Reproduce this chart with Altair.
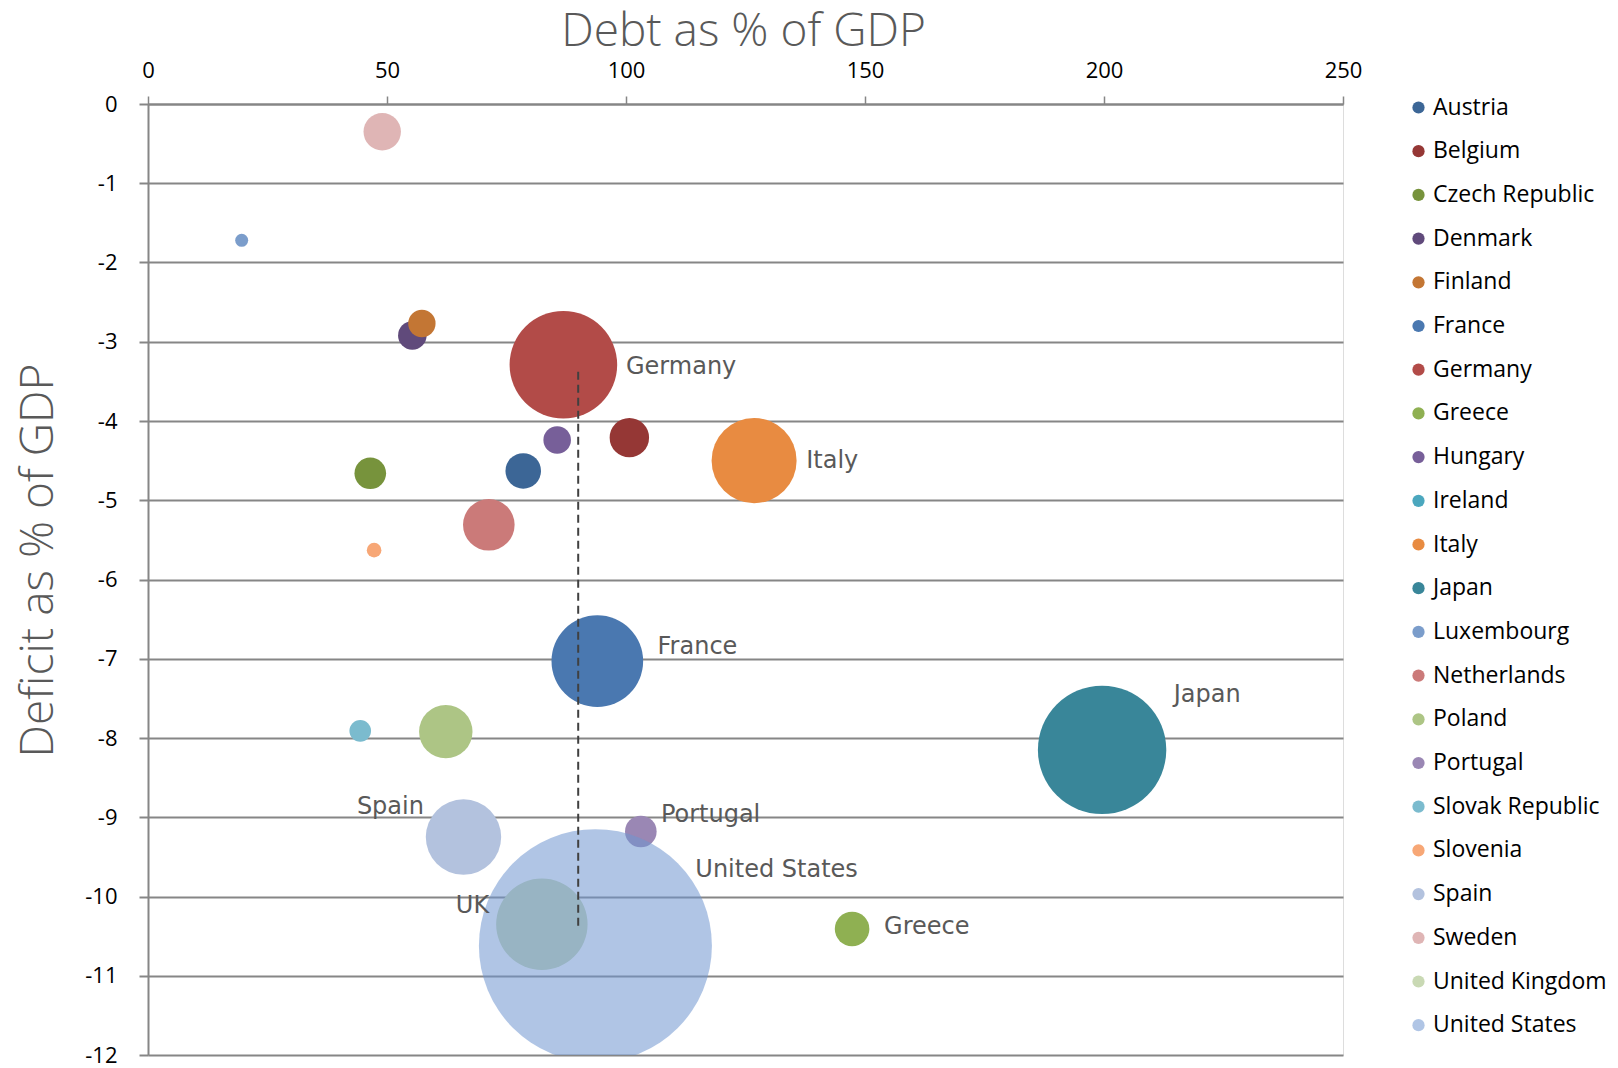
import altair as alt
import pandas as pd

# ---- data ----
legend_countries = ["Austria", "Belgium", "Czech Republic", "Denmark", "Finland", "France",
                    "Germany", "Greece", "Hungary", "Ireland", "Italy", "Japan", "Luxembourg",
                    "Netherlands", "Poland", "Portugal", "Slovak Republic", "Slovenia", "Spain",
                    "Sweden", "United Kingdom", "United States"]
legend_colors = ["#3C6696", "#953735", "#77933C", "#604A7B", "#C37634", "#4A78B0",
                 "#B24B48", "#8FB052", "#775F99", "#4BA7BE", "#E88B41", "#398699", "#7B9DCB",
                 "#CB7A79", "#ADC585", "#9A87B4", "#7BBBCE", "#F7A776", "#B3C2DE",
                 "#DFB5B5", "#C9D9B4", "#7096D0"]

countries = ["Austria", "Belgium", "Czech Republic", "Denmark", "Finland", "France",
             "Germany", "Greece", "Hungary", "Italy", "Japan", "Luxembourg",
             "Netherlands", "Poland", "Portugal", "Slovak Republic", "Slovenia", "Spain",
             "Sweden", "United Kingdom", "United States"]
debt = [78.5, 100.7, 46.5, 55.3, 57.3, 94.0,
        86.9, 147.3, 85.6, 126.8, 199.6, 19.6,
        71.3, 62.3, 103.1, 44.4, 47.3, 66.0,
        49.0, 82.4, 93.6]
deficit = [-4.63, -4.21, -4.66, -2.92, -2.77, -7.03,
           -3.29, -10.41, -4.24, -4.50, -8.15, -1.72,
           -5.31, -7.92, -9.18, -7.91, -5.63, -9.25,
           -0.35, -10.35, -10.62]
gdp = [338, 415, 267, 218, 200, 2241,
       3092, 320, 203, 1930, 4403, 45,
       711, 762, 267, 125, 57, 1518,
       374, 2231, 14500]

label_text = ["Germany", "Italy", "France", "Japan", "Spain", "Portugal",
              "United States", "UK", "Greece"]
label_debt = [100.0, 137.7, 106.6, 214.6, 43.7, 107.3, 114.5, 64.4, 154.0]
label_deficit = [-3.32, -4.51, -6.85, -7.46, -8.87, -8.97, -9.67, -10.12, -10.38]

threshold_debt = [90]
threshold_top = [-3.38]
threshold_bottom = [-10.38]

x_ticks = [0, 50, 100, 150, 200, 250]
y_ticks = list(range(-12, 1))

df = pd.DataFrame({"Country": countries, "Debt": debt, "Deficit": deficit, "GDP": gdp})
labels_df = pd.DataFrame({"Label": label_text, "Debt": label_debt, "Deficit": label_deficit})
rule_df = pd.DataFrame({"Debt": threshold_debt, "Top": threshold_top, "Bottom": threshold_bottom})

x_scale = alt.Scale(domain=[0, 250], nice=False, zero=False)
y_scale = alt.Scale(domain=[-12, 0], nice=False, zero=False)

x_enc = alt.X("Debt:Q", scale=x_scale, axis=alt.Axis(
    orient="top", values=x_ticks, grid=False,
    title="Debt as % of GDP", titleFont="Open Sans", titleFontSize=46,
    titleFontWeight=300, titleColor="#595959",
    titleX=595, titleY=-73, titleBaseline="middle", titleAlign="center", titleAngle=0,
    labelFont="Open Sans", labelFontSize=22, labelColor="#000000", labelPadding=14,
    labelFlush=False, labelExpr="datum.value + ''",
    tickColor="#868686", tickSize=8, tickWidth=1.5,
    domainColor="#868686", domainWidth=2))

y_enc = alt.Y("Deficit:Q", scale=y_scale, axis=alt.Axis(
    values=y_ticks, grid=True, gridColor="#868686", gridWidth=2,
    title="Deficit as % of GDP", titleFont="Open Sans", titleFontSize=46,
    titleFontWeight=300, titleColor="#595959",
    titleX=-110, titleY=456, titleBaseline="middle", titleAlign="center", titleAngle=270,
    labelFont="Open Sans", labelFontSize=22, labelColor="#000000", labelPadding=22,
    labelFlush=False, labelExpr="datum.value + ''",
    tickColor="#868686", tickSize=9, tickWidth=2,
    domainColor="#868686", domainWidth=2))

points = alt.Chart(df).mark_circle(clip=True, strokeWidth=0).encode(
    x=x_enc,
    y=y_enc,
    size=alt.Size("GDP:Q", scale=alt.Scale(type="linear", domain=[0, 14500], range=[0, 54290], zero=True), legend=None),
    color=alt.Color("Country:N", sort=legend_countries,
                    scale=alt.Scale(domain=legend_countries, range=legend_colors),
                    legend=alt.Legend(orient="none", legendX=1259, legendY=-8, title=None,
                                      symbolType="circle", symbolSize=150, symbolStrokeWidth=0,
                                      symbolOpacity={"expr": "datum.value === 'United States' ? 0.55 : 1"},
                                      labelFont="Open Sans", labelFontSize=23, labelColor="#000000",
                                      labelOffset=3, rowPadding=19.7, padding=0,
                                      labelLimit=300, values=legend_countries)),
    opacity=alt.condition(alt.datum.Country == "United States", alt.value(0.55), alt.value(1.0)),
    order=alt.Order("idx:Q"),
).transform_window(idx="row_number()")

rule = alt.Chart(rule_df).mark_rule(color="#404040", strokeDash=[8, 5], strokeWidth=2).encode(
    x=alt.X("Debt:Q", scale=x_scale),
    y=alt.Y("Top:Q", scale=y_scale),
    y2="Bottom:Q",
)

texts = alt.Chart(labels_df).mark_text(align="left", baseline="middle", font="DejaVu Sans",
                                       fontSize=24, color="#595959").encode(
    x=alt.X("Debt:Q", scale=x_scale),
    y=alt.Y("Deficit:Q", scale=y_scale),
    text="Label:N",
)

chart = alt.layer(points, rule, texts).properties(
    width=1195, height=951,
    padding={"left": 140, "top": 96, "right": 264, "bottom": 13},
    autosize=alt.AutoSizeParams(type="none"),
).configure_view(stroke=None).configure(background="white")

chart.save("out.html", embed_options={"renderer": "svg", "actions": False})
